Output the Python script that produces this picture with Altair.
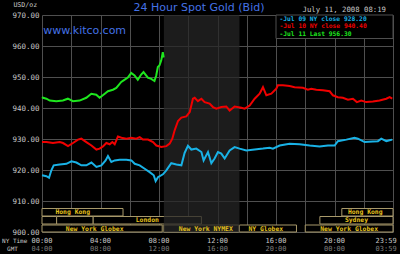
import altair as alt
import pandas as pd

# ---------------- data ----------------
jul09_hours = [0, 0.30, 0.48, 0.64, 0.80, 1.21, 1.67, 2.01, 2.35, 2.69, 3.03, 3.38, 3.72, 4.06, 4.35,
               4.51, 4.74, 4.97, 5.31, 5.77, 6.11, 6.34, 6.68, 7.02, 7.36, 7.64, 7.77, 7.93, 8.27,
               8.50, 8.84, 9.19, 9.53, 9.75, 9.98, 10.21, 10.55, 10.90, 11.05, 11.35, 11.58, 11.80,
               12.03, 12.26, 12.49, 12.83, 13.17, 13.51, 13.97, 14.54, 15.11, 15.56, 15.79, 16.25,
               16.93, 17.61, 18.30, 18.98, 19.55, 20.01, 20.23, 20.81, 21.37, 21.60, 22.06, 22.62,
               22.97, 23.20, 23.54, 23.77, 23.95]
jul09_prices = [918.3, 918.0, 917.5, 919.9, 921.5, 921.8, 922.0, 922.8, 922.4, 921.5, 921.5, 922.4,
                921.0, 921.5, 923.1, 924.5, 922.6, 923.1, 923.3, 923.3, 923.1, 922.0, 921.5, 920.4,
                919.3, 918.3, 916.4, 917.7, 918.6, 919.9, 922.2, 921.8, 921.5, 925.5, 927.8, 926.6,
                926.9, 925.8, 923.1, 925.8, 922.2, 923.7, 925.8, 925.3, 923.7, 926.3, 927.4, 926.9,
                926.3, 926.6, 926.9, 927.2, 926.9, 927.9, 928.5, 928.3, 927.9, 927.6, 927.9, 927.9,
                929.3, 929.8, 930.4, 930.1, 929.0, 929.2, 929.3, 930.1, 929.3, 929.6, 929.8]

jul10_hours = [0, 0.30, 0.75, 1.21, 1.44, 1.78, 2.12, 2.46, 2.69, 3.03, 3.38, 3.72, 3.94, 4.17, 4.40,
               4.63, 4.81, 4.97, 5.19, 5.43, 5.77, 6.11, 6.45, 6.68, 6.90, 7.25, 7.59, 7.82, 8.16,
               8.50, 8.73, 8.91, 9.07, 9.30, 9.53, 9.87, 10.10, 10.21, 10.32, 10.44, 10.66, 10.90,
               11.12, 11.46, 11.69, 11.92, 12.26, 12.60, 12.83, 13.17, 13.63, 13.86, 14.20, 14.54,
               14.88, 15.11, 15.34, 15.68, 16.02, 16.13, 16.47, 16.93, 17.27, 17.84, 18.18, 18.41,
               18.76, 19.21, 19.67, 19.89, 20.23, 20.57, 20.92, 21.26, 21.53, 21.83, 22.17, 22.62,
               23.08, 23.54, 23.77, 23.95]
jul10_prices = [929.0, 929.0, 928.7, 929.0, 928.7, 927.7, 928.7, 929.8, 930.1, 929.0, 927.9, 926.6,
                926.9, 927.6, 928.7, 928.3, 929.0, 928.3, 930.8, 930.4, 930.1, 930.4, 930.1, 930.6,
                929.8, 929.8, 929.0, 927.9, 927.4, 927.7, 928.5, 930.1, 932.8, 935.8, 936.9, 937.3,
                938.7, 940.8, 943.0, 943.3, 942.2, 943.0, 941.9, 941.4, 940.3, 939.8, 940.3, 940.5,
                939.2, 940.5, 940.1, 939.8, 940.8, 943.0, 944.6, 946.7, 944.1, 944.6, 946.2, 947.3,
                947.3, 947.1, 946.7, 946.5, 945.9, 946.2, 945.9, 945.7, 945.4, 944.1, 943.5, 943.3,
                942.7, 943.0, 941.9, 942.4, 941.9, 942.1, 942.4, 943.0, 943.5, 943.0]

jul11_hours = [0, 0.07, 0.30, 0.53, 0.98, 1.43, 1.77, 2.12, 2.57, 3.03, 3.37, 3.71, 3.94, 4.16,
               4.51, 4.85, 5.08, 5.42, 5.58, 5.87, 6.10, 6.33, 6.55, 6.78, 6.94, 7.24, 7.47, 7.69,
               7.81, 7.92, 8.03, 8.15, 8.26, 8.32]
jul11_prices = [943.5, 943.3, 943.0, 942.4, 942.2, 942.4, 943.0, 942.2, 942.4, 943.3, 944.6, 944.3,
                943.3, 944.1, 945.4, 945.9, 946.5, 948.4, 948.9, 949.8, 951.3, 950.5, 949.1, 950.8,
                951.6, 949.8, 949.4, 948.7, 950.5, 953.2, 953.7, 955.3, 958.0, 956.3]

series_names = ["Jul 09", "Jul 10", "Jul 11"]
series_colors = ["#19b2e6", "#f00000", "#1ee61e"]
legend_labels = ["-Jul 09 NY close 928.20", "-Jul 10 NY close 940.40", "-Jul 11 Last 956.30"]

price_ticks = [900, 910, 920, 930, 940, 950, 960, 970]
grid_hours = [0, 2, 4, 6, 8, 10, 12, 14, 16, 18, 20, 22, 24]
time_hours = [0, 4, 8, 12, 16, 20]
ny_time_labels = ["00:00", "04:00", "08:00", "12:00", "16:00", "20:00"]
gmt_labels = ["04:00", "08:00", "12:00", "16:00", "20:00", "00:00"]
last_ny_label = "23:59"
last_gmt_label = "03:59"

session_names = ["Hong Kong", "Hong Kong", "", "", "London", "Sydney",
                 "New York Globex", "New York NYMEX", "NY Globex", "New York Globex"]
session_start = [0, 20.5, 0, 1.0, 3.5, 19.0, 0, 8.33, 13.5, 18.0]
session_end = [5.54, 24, 1.0, 3.5, 10.9, 24, 8.22, 13.45, 17.4, 24]
session_row = [1, 1, 2, 2, 2, 2, 3, 3, 3, 3]
session_label_hour = [2.1, 22.1, 0.5, 2.25, 7.2, 21.5, 3.6, 11.2, 15.3, 21.0]

nymex_open = 8 + 20 / 60
nymex_close = 13.5

title_text = "24 Hour Spot Gold (Bid)"
site_text = "www.kitco.com"
date_text = "July 11, 2008 08:19"
unit_text = "USD/oz"

# ---------------- chart ----------------
W, H = 351, 217
XS = alt.Scale(domain=[0, 24], nice=False, zero=False)
YS = alt.Scale(domain=[900, 970], nice=False, zero=False)
GRID = "#4f4f4f"
MONO = "DejaVu Sans Mono"

XA = alt.Axis(values=grid_hours, labels=False, ticks=False, domain=False,
              grid=True, gridColor=GRID, gridWidth=1, title=None)
YA = alt.Axis(values=price_ticks, format=".2f", ticks=False, domain=False,
              grid=True, gridColor=GRID, gridWidth=1, title=None,
              labelFont=MONO, labelFontSize=7.5, labelColor="#c8c8c8",
              labelPadding=3, labelFlush=False)

lines_df = pd.concat([
    pd.DataFrame({"hour": h, "price": p, "day": n})
    for h, p, n in zip([jul09_hours, jul10_hours, jul11_hours],
                       [jul09_prices, jul10_prices, jul11_prices], series_names)
])

sessions_df = pd.DataFrame({"name": session_names, "start": session_start, "end": session_end,
                            "row": session_row, "at": session_label_hour})

lines = alt.Chart(lines_df).mark_line(strokeWidth=2).encode(
    x=alt.X("hour:Q", scale=XS, axis=XA),
    y=alt.Y("price:Q", scale=YS, axis=YA),
    color=alt.Color("day:N", scale=alt.Scale(domain=series_names, range=series_colors), legend=None),
)

row_y = {1: (193.5, 201), 2: (201.5, 209), 3: (210, 217)}
row_label_y = {1: 197.3, 2: 205.3, 3: 213.6}

box_layers = []
for r in (1, 2, 3):
    base = alt.Chart(sessions_df).transform_filter(alt.datum.row == r)
    box_layers.append(base.mark_rect(fill="black", stroke="#a8996a", strokeWidth=1).encode(
        x=alt.X("start:Q", scale=XS, axis=XA), x2="end:Q",
        y=alt.value(row_y[r][0]), y2=alt.value(row_y[r][1])))

shade = alt.Chart(pd.DataFrame({"o": [nymex_open], "c": [nymex_close]})).mark_rect(
    fill="#262626", opacity=0.75).encode(
    x=alt.X("o:Q", scale=XS, axis=XA), x2="c:Q", y=alt.value(0), y2=alt.value(H))

label_layers = []
for r in (1, 2, 3):
    base = alt.Chart(sessions_df).transform_filter(alt.datum.row == r)
    label_layers.append(base.mark_text(font=MONO, fontSize=6.4, fontWeight="bold", color="#e6c21e",
                                       baseline="middle", align="center").encode(
        x=alt.X("at:Q", scale=XS, axis=XA), y=alt.value(row_label_y[r]), text="name:N"))

legend_box = alt.Chart(pd.DataFrame({"a": [16], "b": [24]})).mark_rect(
    fill="black", stroke=GRID, strokeWidth=1).encode(
    x=alt.X("a:Q", scale=XS, axis=XA), x2="b:Q", y=alt.value(0), y2=alt.value(23.5))

legend_texts = []
for i, (t, c) in enumerate(zip(legend_labels, series_colors)):
    legend_texts.append(alt.Chart(pd.DataFrame({"t": [t]})).mark_text(
        font=MONO, fontSize=6.3, fontWeight="bold", color=c, align="left", baseline="middle").encode(
        x=alt.value(237.5), y=alt.value(3.6 + 7.8 * i), text="t:N"))

time_df = pd.DataFrame({"hour": time_hours, "ny": ny_time_labels, "gmt": gmt_labels})
ny_lab = alt.Chart(time_df).mark_text(font=MONO, fontSize=7, color="#c8c8c8", baseline="middle").encode(
    x=alt.X("hour:Q", scale=XS, axis=XA), y=alt.value(225.7), text="ny:N")
gmt_lab = alt.Chart(time_df).mark_text(font=MONO, fontSize=7, color="#7c7c7c", baseline="middle").encode(
    x=alt.X("hour:Q", scale=XS, axis=XA), y=alt.value(234.3), text="gmt:N")
end_df = pd.DataFrame({"hour": [24], "ny": [last_ny_label], "gmt": [last_gmt_label]})
ny_end = alt.Chart(end_df).mark_text(font=MONO, fontSize=7, color="#c8c8c8", baseline="middle",
                                     align="right", dx=3.7).encode(
    x=alt.X("hour:Q", scale=XS, axis=XA), y=alt.value(225.7), text="ny:N")
gmt_end = alt.Chart(end_df).mark_text(font=MONO, fontSize=7, color="#7c7c7c", baseline="middle",
                                      align="right", dx=3.7).encode(
    x=alt.X("hour:Q", scale=XS, axis=XA), y=alt.value(234.3), text="gmt:N")


def label(text, x, y, **kw):
    return alt.Chart(pd.DataFrame({"t": [text]})).mark_text(**kw).encode(
        x=alt.value(x), y=alt.value(y), text="t:N")


title = label(title_text, 157, -4.5, font="DejaVu Sans", fontSize=11, color="#4472e6",
              align="center", baseline="alphabetic")
site = label(site_text, 1.3, 19.3, font="DejaVu Sans", fontSize=11, color="#4472e6",
             align="left", baseline="alphabetic")
date = label(date_text, 344, -3.3, font=MONO, fontSize=7.3, color="#c8c8c8",
             align="right", baseline="alphabetic")
unit = label(unit_text, -16.7, -10, font=MONO, fontSize=6.6, color="#c8c8c8",
             align="center", baseline="middle")
nytime = label("NY Time", -27.3, 225.7, font=MONO, fontSize=6, color="#c8c8c8",
               align="center", baseline="middle")
gmt = label("GMT", -29.5, 234.3, font=MONO, fontSize=6, color="#c8c8c8",
            align="center", baseline="middle")

chart = alt.layer(
    *box_layers, shade, *label_layers, lines, legend_box, *legend_texts,
    ny_lab, gmt_lab, ny_end, gmt_end, title, site, date, unit, nytime, gmt,
).properties(
    width=W, height=H, background="black",
    autosize=alt.AutoSizeParams(type="none"),
    padding={"left": 42, "top": 15, "right": 7, "bottom": 22},
).configure_view(strokeWidth=0)

chart.save("out.html", embed_options={"renderer": "svg", "actions": False})
